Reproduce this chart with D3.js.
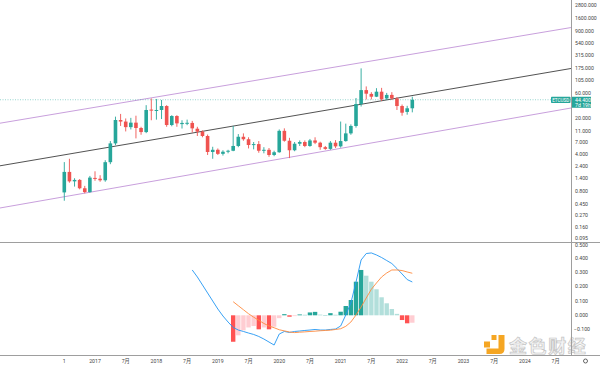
<!DOCTYPE html>
<html><head><meta charset="utf-8">
<script src="https://cdn.jsdelivr.net/npm/d3@7/dist/d3.min.js"></script>
<style>html,body{margin:0;padding:0;background:#fff;overflow:hidden}</style>
</head><body><svg id="c" width="600" height="367"></svg>
<script>
// ---------- DATA ----------
const months = ["2016-07","2016-08","2016-09","2016-10","2016-11","2016-12",
"2017-01","2017-02","2017-03","2017-04","2017-05","2017-06","2017-07","2017-08","2017-09","2017-10","2017-11","2017-12",
"2018-01","2018-02","2018-03","2018-04","2018-05","2018-06","2018-07","2018-08","2018-09","2018-10","2018-11","2018-12",
"2019-01","2019-02","2019-03","2019-04","2019-05","2019-06","2019-07","2019-08","2019-09","2019-10","2019-11","2019-12",
"2020-01","2020-02","2020-03","2020-04","2020-05","2020-06","2020-07","2020-08","2020-09","2020-10","2020-11","2020-12",
"2021-01","2021-02","2021-03","2021-04","2021-05","2021-06","2021-07","2021-08","2021-09","2021-10","2021-11","2021-12",
"2022-01","2022-02","2022-03"];
const open = [0.75,1.85,1.22,1.30,0.90,0.76,
1.42,1.37,1.28,2.84,6.50,18.2,17.0,13.3,16.2,12.8,10.7,28.8,
27.5,28.3,33.7,14.6,21.7,15.2,15.9,16.0,12.4,10.9,9.0,4.45,
4.9,4.1,4.5,4.7,5.8,8.7,7.8,6.05,6.3,4.7,4.9,3.9,
4.4,11.3,7.3,4.8,6.4,6.9,5.8,7.4,6.7,5.5,5.1,6.7,
5.7,7.2,10.1,14.0,36.8,68.0,57.5,50.8,63.4,47.0,55.0,47.0,
33.7,26.0,30.5];
const high = [2.85,3.30,1.40,1.35,1.00,1.55,
1.90,1.60,3.10,7.20,21.1,23.8,19.5,20.0,22.0,13.5,35.0,47.0,
46.0,44.0,35.0,22.5,22.5,18.0,18.5,17.5,13.5,11.5,9.6,5.6,
5.2,4.8,4.9,14.0,9.8,10.1,8.5,6.9,7.2,5.5,5.3,4.7,
12.0,12.6,8.3,6.9,7.4,7.4,7.9,8.5,7.0,5.8,7.2,7.5,
17.0,15.5,15.0,48.0,177,80.0,62.0,74.0,75.0,60.0,62.0,50.0,
36.0,34.0,50.8];
const low = [0.52,1.15,0.97,0.86,0.72,0.74,
1.25,1.20,1.20,2.60,6.00,14.0,11.0,12.0,8.1,9.5,10.2,18.0,
18.5,19.0,13.5,13.8,13.5,12.5,14.5,10.5,9.0,8.5,3.9,3.3,
3.9,3.8,4.2,4.6,5.5,7.3,5.2,5.0,4.3,4.2,3.6,3.7,
4.3,7.0,3.4,4.6,5.8,5.5,5.6,6.3,4.9,4.9,4.9,5.3,
5.4,7.0,9.5,13.0,33.0,45.0,45.0,50.0,42.0,44.0,44.0,28.3,
22.0,23.0,25.5];
const close = [1.85,1.22,1.30,0.90,0.76,1.44,
1.37,1.28,2.84,6.50,18.2,17.0,13.3,16.2,12.8,10.7,28.3,27.5,
28.3,33.7,14.6,21.7,15.7,16.0,16.1,12.6,10.9,9.0,4.45,4.9,
4.1,4.5,4.7,5.8,8.7,7.8,6.05,6.3,4.7,4.9,3.9,4.4,
11.3,7.3,4.8,6.4,6.9,5.8,7.4,6.7,5.5,5.1,6.7,5.7,
7.2,10.1,14.0,36.8,68.0,58.0,50.8,63.4,45.3,55.0,47.0,33.7,
25.1,30.5,44.4];

// MACD panel (values start at the given month)
const macdStartMonth = "2018-08";
const macdLine = [0.317,0.268,0.212,0.156,0.100,0.044,-0.005,-0.047,-0.085,-0.103,-0.113,-0.124,
-0.134,-0.148,-0.166,-0.187,-0.208,-0.131,-0.113,-0.120,-0.113,-0.110,-0.106,-0.103,-0.099,-0.103,
-0.103,-0.099,-0.096,-0.075,0.002,0.086,0.233,0.387,0.432,0.436,0.422,0.404,0.383,0.362,0.327,
0.289,0.250,0.233];
const signalStartMonth = "2019-04";
const signalLine = [0.095,0.067,0.039,0.011,-0.013,-0.035,-0.057,-0.075,-0.087,-0.101,-0.109,-0.117,
-0.121,-0.118,-0.116,-0.113,-0.111,-0.108,-0.106,-0.104,-0.099,-0.094,-0.077,-0.047,0.002,0.058,
0.121,0.182,0.226,0.268,0.296,0.317,0.317,0.313,0.303,0.294];
const histogram = [-0.185,-0.14,-0.105,-0.085,-0.075,-0.098,-0.085,-0.098,-0.08,-0.02,0.008,-0.01,
-0.005,0.006,0.004,0.02,0.024,0.005,0.002,0.015,0.004,0.025,0.065,0.107,0.235,0.317,0.277,0.235,
0.182,0.126,0.084,0.044,0.01,-0.033,-0.056,-0.052];

// regression channel (month index relative to 2016-07, price)
const channelIdx = [-13, 100];
const channelMid = [2.38, 182.9];
const channelUpper = [15.56, 1110];
const channelLower = [0.371, 32.1];

const priceTicks = [2800,1600,900,540,315,175,105,60,20,11,7,4,2.4,1.4,0.8,0.45,0.27,0.16,0.095];
const macdTicks = [0.5,0.4,0.3,0.2,0.1,0,-0.1];
const timeTickIdx = [0,6,12,18,24,30,36,42,48,54,60,66,72,78,84,90,96];
const timeTickLabels = ["1","2017","7月","2018","7月","2019","7月","2020","7月","2021","7月","2022","7月","2023","7月","2024","7月"];
const symbol = "ETCUSD";
const lastPrice = 44.4;
const countdown = "7d 19h";

// ---------- CHART ----------
const W = 600, H = 367, axisX = 571.5, paneSep = 242, xAxisY = 355;
const UP = "#26a69a", DOWN = "#ef5350";
const svg = d3.select("#c");
const font = "Roboto, 'Noto Sans CJK SC', sans-serif";

const x = d3.scaleLinear().domain([0, 68]).range([64.3, 412.3]);
const y = d3.scaleLog().domain([0.0844, 3597]).range([paneSep, 0]);
const ym = d3.scaleLinear().domain([-0.1, 0.5]).range([329.6, 243.8]);

const defs = svg.append("defs");
defs.append("clipPath").attr("id","cp").append("rect").attr("x",0).attr("y",0).attr("width",axisX).attr("height",paneSep);
defs.append("clipPath").attr("id","cm").append("rect").attr("x",0).attr("y",paneSep+0.5).attr("width",axisX).attr("height",xAxisY-paneSep-0.5);

// watermark (behind)
const wm = svg.append("g");
wm.append("rect").attr("x",484).attr("y",341.5).attr("width",6).attr("height",6).attr("fill","#f5a623");
wm.append("path").attr("d","M491.5,335 h5 v5 h-5 z M498.5,335 h6 v14 q0,5 -5,5 h-13 v-5.5 h12 z").attr("fill","#f5a623");
wm.append("text").attr("x",509).attr("y",353).attr("font-family","'Noto Sans CJK SC'").attr("font-weight","bold")
  .attr("font-size",18).attr("letter-spacing",1.6).attr("fill","#f3f3f3").attr("stroke","#c4c4c4").attr("stroke-width",0.7)
  .text("金色财经");

// price pane
const pp = svg.append("g").attr("clip-path","url(#cp)");
const lineGen = d3.line().x(d=>x(d[0])).y(d=>y(d[1]));
[[channelUpper,"#b57fd0",0.75],[channelLower,"#b57fd0",0.75],[channelMid,"#333",0.85]].forEach(([vals,col,sw])=>{
  pp.append("path").attr("d", lineGen(channelIdx.map((c,k)=>[c, vals[k]])))
    .attr("fill","none").attr("stroke",col).attr("stroke-width",sw);
});
// last price line
pp.append("line").attr("x1",0).attr("x2",axisX).attr("y1",y(lastPrice)).attr("y2",y(lastPrice))
  .attr("stroke",UP).attr("stroke-opacity",0.6).attr("stroke-width",0.8).attr("stroke-dasharray","1,1.5");

const candles = months.map((m,i)=>({i, o:open[i], h:high[i], l:low[i], c:close[i]}));
const cg = pp.append("g");
cg.selectAll("line.w").data(candles).join("line").attr("class","w")
  .attr("x1",d=>x(d.i)).attr("x2",d=>x(d.i)).attr("y1",d=>y(d.h)).attr("y2",d=>y(d.l))
  .attr("stroke",d=>d.c>=d.o?UP:DOWN).attr("stroke-width",0.9);
const bw = 3.6;
cg.selectAll("rect.b").data(candles).join("rect").attr("class","b")
  .attr("x",d=>x(d.i)-bw/2).attr("width",bw)
  .attr("y",d=>Math.min(y(d.o),y(d.c)))
  .attr("height",d=>Math.max(1,Math.abs(y(d.o)-y(d.c))))
  .attr("fill",d=>d.c>=d.o?UP:DOWN);

// MACD pane
const mp = svg.append("g").attr("clip-path","url(#cm)");
const sIdx = months.indexOf(signalStartMonth), mIdx = months.indexOf(macdStartMonth);
const hist = histogram.map((v,k)=>({i:sIdx+k, v, p: k>0?histogram[k-1]:null}));
const hcol = d=>{
  if (d.v>=0) return (d.p===null||d.v>d.p) ? "#26a69a" : "#b2dfdb";
  return (d.p===null||d.v<d.p) ? "#ff5252" : "#ffcdd2";
};
const hw = 4.4;
mp.selectAll("rect.h").data(hist).join("rect").attr("class","h")
  .attr("x",d=>x(d.i)-hw/2).attr("width",hw)
  .attr("y",d=>Math.min(ym(0),ym(d.v))).attr("height",d=>Math.max(0.8,Math.abs(ym(d.v)-ym(0))))
  .attr("fill",hcol);
const ml = d3.line().x(d=>x(d[0])).y(d=>ym(d[1])).curve(d3.curveLinear);
mp.append("path").attr("d",ml(macdLine.map((v,k)=>[mIdx+k,v]))).attr("fill","none").attr("stroke","#2196f3").attr("stroke-width",0.9);
mp.append("path").attr("d",ml(signalLine.map((v,k)=>[sIdx+k,v]))).attr("fill","none").attr("stroke","#ff8a3d").attr("stroke-width",0.9);

// frame lines
svg.append("line").attr("x1",0).attr("x2",W).attr("y1",paneSep+0.5).attr("y2",paneSep+0.5).attr("stroke","#9e9e9e").attr("stroke-width",1);
svg.append("line").attr("x1",0).attr("x2",W).attr("y1",xAxisY+0.5).attr("y2",xAxisY+0.5).attr("stroke","#9e9e9e").attr("stroke-width",1);
svg.append("line").attr("x1",axisX).attr("x2",axisX).attr("y1",0).attr("y2",xAxisY).attr("stroke","#9e9e9e").attr("stroke-width",1);

// price axis labels (lowest nudged up slightly to clear the MACD top label)
svg.append("g").selectAll("text").data(priceTicks).join("text")
  .attr("x",575).attr("y",d=>y(d)+(d<0.1?1.0:1.8)).attr("font-family",font).attr("font-size",5.2).attr("fill","#444")
  .text(d=>d3.format(".3f")(d));
// macd axis labels (top one nudged down below the pane separator)
svg.append("g").selectAll("text").data(macdTicks).join("text")
  .attr("x",d=>d<0?574:575).attr("y",d=>ym(d)+(d>=0.5?3.6:1.6)).attr("font-family",font).attr("font-size",5.2).attr("fill","#444")
  .text(d=>d3.format(".3f")(d));
// time axis labels
svg.append("g").selectAll("text").data(timeTickIdx).join("text")
  .attr("x",d=>x(d)).attr("y",362.5).attr("text-anchor","middle").attr("font-family",font).attr("font-size",5.2).attr("fill","#444")
  .text((d,k)=>timeTickLabels[k]);
// settings icon
svg.append("circle").attr("cx",585.5).attr("cy",361).attr("r",2).attr("fill","none").attr("stroke","#555").attr("stroke-width",0.9);

// symbol + price labels
const py = y(lastPrice);
svg.append("rect").attr("x",551).attr("y",py-3).attr("width",19.5).attr("height",6.2).attr("fill",UP).attr("rx",0.8);
svg.append("text").attr("x",560.7).attr("y",py+1.8).attr("text-anchor","middle").attr("font-family",font).attr("font-size",4.6).attr("fill","#fff").text(symbol);
svg.append("rect").attr("x",572).attr("y",py-3).attr("width",19).attr("height",11).attr("fill",UP);
svg.append("text").attr("x",575).attr("y",py+1.8).attr("font-family",font).attr("font-size",5.2).attr("fill","#fff").text(d3.format(".3f")(lastPrice));
svg.append("text").attr("x",575).attr("y",py+6.9).attr("font-family",font).attr("font-size",5.2).attr("fill","#fff").text(countdown);
</script></body></html>
